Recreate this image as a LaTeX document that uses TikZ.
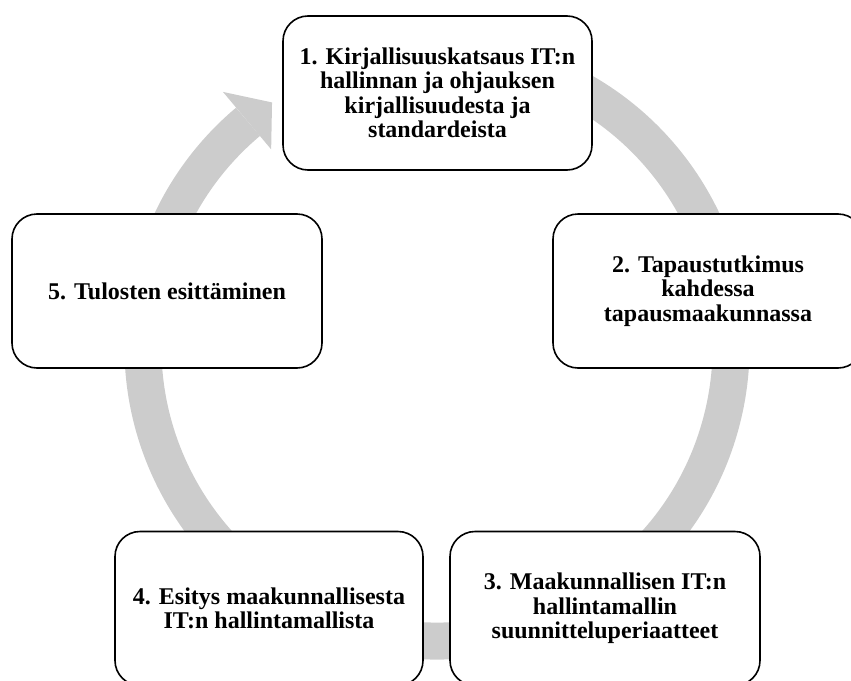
\documentclass[tikz,border=0pt]{standalone}
\usepackage{fontspec}
\setmainfont{Liberation Serif}
\usetikzlibrary{calc}
\definecolor{ringgray}{RGB}{204,204,204}
\tikzset{
  stagebox/.style={draw=black, line width=1.6pt, fill=white, rounded corners=25pt,
    align=center, inner sep=0pt, minimum height=154pt,
    font=\bfseries\fontsize{24}{24.5}\selectfont},
  ringband/.style={draw=ringgray, line width=37pt, line cap=butt},
  ringhead/.style={fill=ringgray, draw=none}
}
\begin{document}
\begin{tikzpicture}[x=1pt, y=-1pt]
  \useasboundingbox (0,0) rectangle (851,680);
  \clip (0,0) rectangle (851,680);

  % cycle ring behind the stages
  \coordinate (ctr) at (437,347);
  \draw[ringband] ($(ctr)+(75:294 and -294)$)
    arc[start angle=75, end angle=-230, x radius=294, y radius=-294];
  \fill[ringhead] ($(ctr)+(130:333 and -333)$) -- ($(ctr)+(124:295 and -295)$)
    -- ($(ctr)+(130:258 and -258)$) -- cycle;

  % stages of the process
  \node[stagebox, minimum width=309pt] (s1) at (437.5,93)
    {1. Kirjallisuuskatsaus IT:n\\hallinnan ja ohjauksen\\kirjallisuudesta ja\\standardeista};
  \node[stagebox, minimum width=310pt] (s2) at (708,291)
    {2. Tapaustutkimus\\kahdessa\\tapausmaakunnassa};
  \node[stagebox, minimum width=310pt] (s3) at (605,608.5)
    {3. Maakunnallisen IT:n\\hallintamallin\\suunnitteluperiaatteet};
  \node[stagebox, minimum width=308pt] (s4) at (269,608.5)
    {4. Esitys maakunnallisesta\\IT:n hallintamallista};
  \node[stagebox, minimum width=310pt] (s5) at (167,291)
    {5. Tulosten esittäminen};
\end{tikzpicture}
\end{document}
